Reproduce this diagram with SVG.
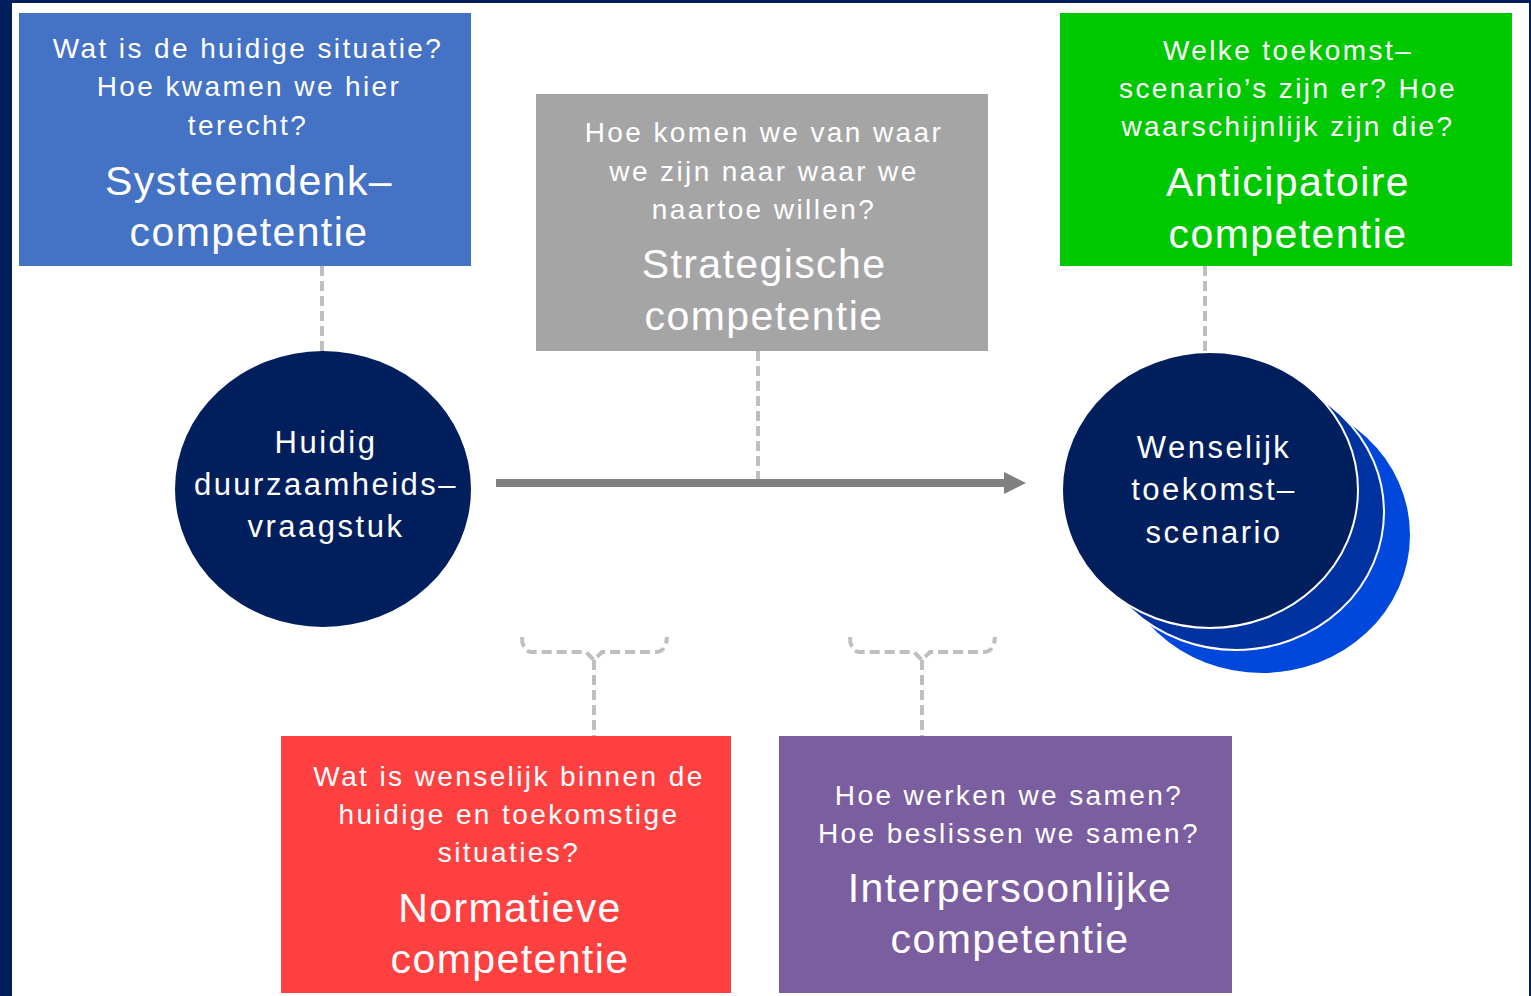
<svg xmlns="http://www.w3.org/2000/svg" width="1531" height="996" viewBox="0 0 1531 996">
<style>
.q{font-family:"Liberation Sans",Arial,sans-serif;font-size:28px;fill:#fff;text-anchor:middle;letter-spacing:2.4px}
.t{font-family:"Liberation Sans",Arial,sans-serif;font-size:41px;fill:#fff;text-anchor:middle;letter-spacing:1.4px}
.c{font-family:"Liberation Sans",Arial,sans-serif;font-size:31px;fill:#fff;text-anchor:middle;letter-spacing:2.5px}
.d{fill:none;stroke:#BFBFBF;stroke-width:4;stroke-dasharray:10 5}
</style>
<rect width="1531" height="996" fill="#fff"/>
<rect x="0" y="0" width="12" height="996" fill="#001F5C"/>
<rect x="0" y="0" width="1531" height="3" fill="#001F5C"/>
<rect x="1529" y="0" width="2" height="996" fill="#001F5C"/>
<g id="connectors">
<path class="d" d="M322 266V351"/>
<path class="d" d="M758 351V482"/>
<path class="d" d="M1205 266V353"/>
<path class="d" d="M522 637Q522 652 532 652H586L594 660L602 652H656Q666 652 667 637M594 660V736"/>
<path class="d" d="M850 637Q850 652 860 652H914L922 660L930 652H984Q994 652 995 637M922 660V736"/>
<path d="M496 483H1006" stroke="#808080" stroke-width="8"/>
<path d="M1004 472L1026 483L1004 494Z" fill="#808080"/>
</g>
<g id="blue">
<rect x="19" y="13" width="452" height="253" fill="#4472C4"/>
<text class="q" x="248" y="58">Wat is de huidige situatie?</text>
<text class="q" x="249" y="96">Hoe kwamen we hier</text>
<text class="q" x="248" y="135">terecht?</text>
<text class="t" x="249" y="195">Systeemdenk–</text>
<text class="t" x="249" y="246">competentie</text>
</g>
<g id="gray">
<rect x="536" y="94" width="452" height="257" fill="#A5A5A5"/>
<text class="q" x="764" y="142">Hoe komen we van waar</text>
<text class="q" x="764" y="181">we zijn naar waar we</text>
<text class="q" x="764" y="219">naartoe willen?</text>
<text class="t" x="764" y="278">Strategische</text>
<text class="t" x="764" y="330">competentie</text>
</g>
<g id="green">
<rect x="1060" y="13" width="452" height="253" fill="#00C800"/>
<text class="q" x="1288" y="60">Welke toekomst–</text>
<text class="q" x="1288" y="98">scenario’s zijn er? Hoe</text>
<text class="q" x="1288" y="136">waarschijnlijk zijn die?</text>
<text class="t" x="1288" y="196">Anticipatoire</text>
<text class="t" x="1288" y="248">competentie</text>
</g>
<g id="red">
<rect x="281" y="736" width="450" height="257" fill="#FF4040"/>
<text class="q" x="509" y="786">Wat is wenselijk binnen de</text>
<text class="q" x="509" y="824">huidige en toekomstige</text>
<text class="q" x="509" y="862">situaties?</text>
<text class="t" x="510" y="922">Normatieve</text>
<text class="t" x="510" y="973">competentie</text>
</g>
<g id="purple">
<rect x="779" y="736" width="453" height="257" fill="#7B5EA0"/>
<text class="q" x="1009" y="805">Hoe werken we samen?</text>
<text class="q" x="1009" y="843">Hoe beslissen we samen?</text>
<text class="t" x="1010" y="902">Interpersoonlijke</text>
<text class="t" x="1010" y="953">competentie</text>
</g>
<g id="current">
<ellipse cx="323" cy="489" rx="148" ry="138" fill="#001F5C"/>
<text class="c" x="326" y="453">Huidig</text>
<text class="c" x="326" y="495">duurzaamheids–</text>
<text class="c" x="326" y="537">vraagstuk</text>
</g>
<g id="future">
<ellipse cx="1262" cy="535" rx="148" ry="138" fill="#0047DC"/>
<ellipse cx="1236" cy="512" rx="148" ry="138" fill="#0033A0" stroke="#fff" stroke-width="2"/>
<ellipse cx="1210" cy="490" rx="148" ry="138" fill="#001F5C" stroke="#fff" stroke-width="2"/>
<text class="c" x="1214" y="458">Wenselijk</text>
<text class="c" x="1214" y="500">toekomst–</text>
<text class="c" x="1214" y="543">scenario</text>
</g>
</svg>
